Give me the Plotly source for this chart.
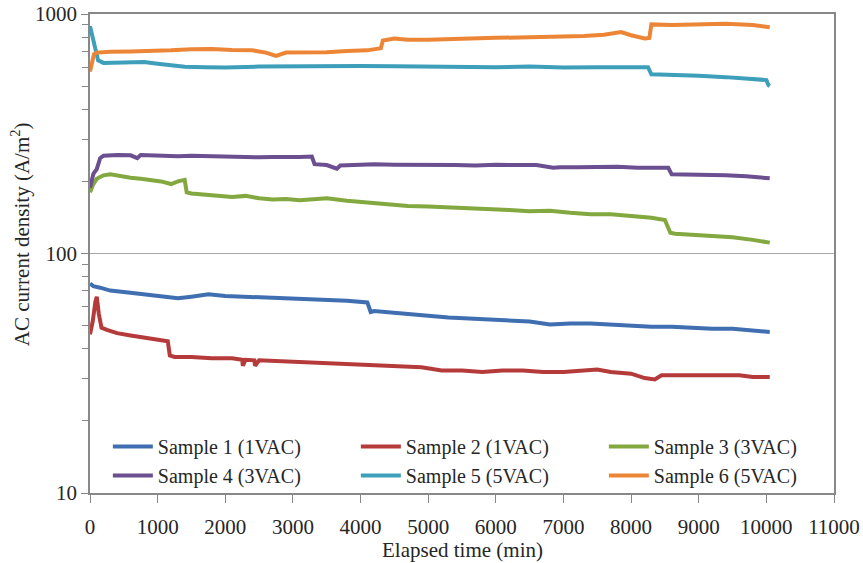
import plotly.graph_objects as go

# ---------------- data ----------------
t1 = [0, 50, 150, 300, 500, 700, 900, 1100, 1300, 1500, 1750, 2000, 2300, 2600, 2900, 3200, 3500, 3800, 4100, 4150, 4200, 4400, 4700, 5000, 5300, 5600, 5900, 6200, 6500, 6800, 7100, 7400, 7700, 8000, 8300, 8600, 8900, 9200, 9500, 9800, 10050]
v1 = [75, 73, 72, 70, 69, 68, 67, 65.5, 65, 66, 67.5, 66.5, 66, 65.5, 65, 65, 64, 63.5, 62.5, 57, 57.5, 57, 56, 55, 54, 53.5, 52.5, 52.5, 52, 50.5, 51, 51, 50.5, 50, 49.5, 49.5, 49, 48.5, 48.5, 47.5, 47]

t2 = [0, 40, 80, 100, 130, 170, 250, 400, 600, 800, 1000, 1150, 1180, 1250, 1500, 1800, 2100, 2250, 2260, 2300, 2430, 2440, 2500, 2800, 3100, 3400, 3700, 4000, 4300, 4600, 4900, 5200, 5500, 5800, 6100, 6400, 6700, 7000, 7300, 7500, 7700, 8000, 8200, 8350, 8450, 8700, 9000, 9300, 9600, 9800, 10050]
v2 = [46, 52, 63, 66, 56, 49, 48, 46.5, 45.5, 44.5, 43.5, 43, 37.5, 37, 37, 36.5, 36.5, 36, 34, 36, 35.8, 34, 35.8, 35.5, 35, 34.8, 34.5, 34.2, 34, 33.8, 33.5, 32.5, 32.5, 32, 32.5, 32.5, 32, 32, 32.5, 32.8, 32, 31.5, 30.2, 29.8, 31, 31, 31.2, 31, 31, 30.5, 30.5]

t3 = [0, 50, 100, 200, 300, 450, 600, 750, 900, 1050, 1200, 1300, 1400, 1430, 1500, 1700, 1900, 2100, 2300, 2500, 2700, 2900, 3100, 3300, 3500, 3800, 4100, 4400, 4700, 5000, 5300, 5600, 5900, 6200, 6500, 6800, 7100, 7400, 7700, 8000, 8300, 8500, 8580, 8650, 8900, 9200, 9500, 9800, 10050]
v3 = [180, 195, 205, 212, 214, 210, 207, 205, 203, 200, 195, 200, 203, 180, 178, 176, 174, 172, 174, 170, 168, 169, 167, 168, 170, 166, 163, 160, 158, 157, 156, 154, 153, 152, 150, 151, 148, 146, 146, 144, 141, 138, 122, 121, 120, 118, 117, 114, 111]

t4 = [0, 50, 100, 150, 200, 400, 600, 700, 750, 900, 1100, 1300, 1500, 1700, 1900, 2100, 2300, 2500, 2700, 2900, 3100, 3280, 3320, 3500, 3650, 3700, 3900, 4200, 4500, 4800, 5100, 5400, 5700, 6000, 6300, 6600, 6850, 6950, 7200, 7500, 7800, 8100, 8400, 8550, 8600, 8800, 9100, 9400, 9700, 10050]
v4 = [188, 215, 225, 250, 256, 258, 257, 250, 258, 257, 256, 255, 256, 255, 256, 254, 253, 252, 253, 252, 253, 254, 236, 234, 226, 233, 234, 236, 235, 235, 236, 234, 233, 235, 234, 234, 228, 229, 229, 230, 230, 228, 228, 228, 214, 214, 213, 212, 210, 206]

t5 = [0, 20, 50, 80, 120, 200, 400, 600, 800, 1000, 1200, 1400, 1700, 2000, 2500, 3000, 3500, 4000, 4500, 5000, 5500, 6000, 6500, 7000, 7500, 8000, 8250, 8300, 8600, 9000, 9400, 9800, 10000, 10030, 10050]
v5 = [890, 840, 760, 700, 640, 625, 628, 632, 630, 620, 612, 602, 600, 598, 603, 605, 605, 607, 605, 602, 603, 600, 603, 598, 600, 602, 600, 560, 558, 552, 545, 535, 530, 505, 500]

t6 = [0, 30, 60, 100, 150, 300, 600, 900, 1200, 1500, 1800, 2100, 2400, 2600, 2750, 2900, 3200, 3500, 3800, 4100, 4300, 4330, 4500, 4700, 5000, 5500, 6000, 6500, 7000, 7300, 7600, 7850, 8000, 8200, 8270, 8300, 8600, 9000, 9400, 9800, 10050]
v6 = [575, 620, 680, 690, 692, 695, 698, 700, 705, 712, 715, 708, 705, 690, 668, 690, 688, 692, 700, 705, 720, 775, 790, 780, 780, 790, 795, 800, 805, 810, 820, 840, 815, 790, 795, 905, 900, 905, 910, 900, 880]

names = ["Sample 1 (1VAC)", "Sample 2 (1VAC)", "Sample 3 (3VAC)",
         "Sample 4 (3VAC)", "Sample 5 (5VAC)", "Sample 6 (5VAC)"]
colors = ["#3F6FB0", "#B53A3A", "#83A83F", "#6B4F90", "#3E9FBA", "#EC8636"]

x_ticks = list(range(0, 11001, 1000))
y_ticks = [10, 100, 1000]
y_minor = [v * 10 ** k for k in (1, 2) for v in range(2, 10)]

series = [(t1, v1), (t2, v2), (t3, v3), (t4, v4), (t5, v5), (t6, v6)]

FONT = "Times New Roman, Liberation Serif, DejaVu Serif, Noto Serif, serif"
TXT = "#262626"

fig = go.Figure()
for (t, v), name, col in zip(series, names, colors):
    fig.add_trace(go.Scatter(x=t, y=v, mode="lines", name=name,
                             line=dict(color=col, width=4)))

fig.update_layout(
    width=863, height=563,
    margin=dict(l=90, r=29, t=14, b=70, autoexpand=False),
    paper_bgcolor="white", plot_bgcolor="white",
    font=dict(family=FONT, size=21, color=TXT),
    showlegend=True,
    legend=dict(orientation="h", x=0.024, xanchor="left", y=-0.004, yanchor="bottom",
                entrywidth=193, entrywidthmode="pixels", traceorder="normal",
                font=dict(family=FONT, size=20, color=TXT),
                bgcolor="rgba(0,0,0,0)", tracegroupgap=0, itemwidth=40),
)

fig.update_xaxes(
    range=[0, 11000], tickvals=x_ticks, ticktext=[str(x) for x in x_ticks],
    ticks="outside", ticklen=8, tickcolor="#888888", ticklabelstandoff=6,
    tickfont=dict(family=FONT, size=21, color=TXT), automargin=False,
    showline=True, linecolor="#888888", linewidth=1.5, mirror=True,
    showgrid=False, zeroline=False,
)
fig.update_yaxes(
    type="log", range=[1, 3], tickvals=y_ticks, ticktext=["10", "100", "1000"],
    ticks="outside", ticklen=7, tickcolor="#888888", automargin=False,
    tickfont=dict(family=FONT, size=21, color=TXT),
    minor=dict(tickvals=y_minor, ticks="outside", ticklen=6, tickcolor="#888888", showgrid=False),
    showline=True, linecolor="#888888", linewidth=1.5, mirror=True,
    showgrid=True, gridcolor="#A8A8A8", gridwidth=1.2, zeroline=False,
)

fig.add_annotation(text="Elapsed time (min)",
                   xref="paper", yref="paper", x=0.5, y=-0.118,
                   xanchor="center", yanchor="middle", showarrow=False,
                   font=dict(family=FONT, size=21, color=TXT))
fig.add_annotation(text="AC current density (A/m<sup>2</sup>)", textangle=-90,
                   xref="paper", yref="paper", x=-0.093, y=0.54,
                   xanchor="center", yanchor="middle", showarrow=False,
                   font=dict(family=FONT, size=21, color=TXT))

fig.write_html("out.html")
